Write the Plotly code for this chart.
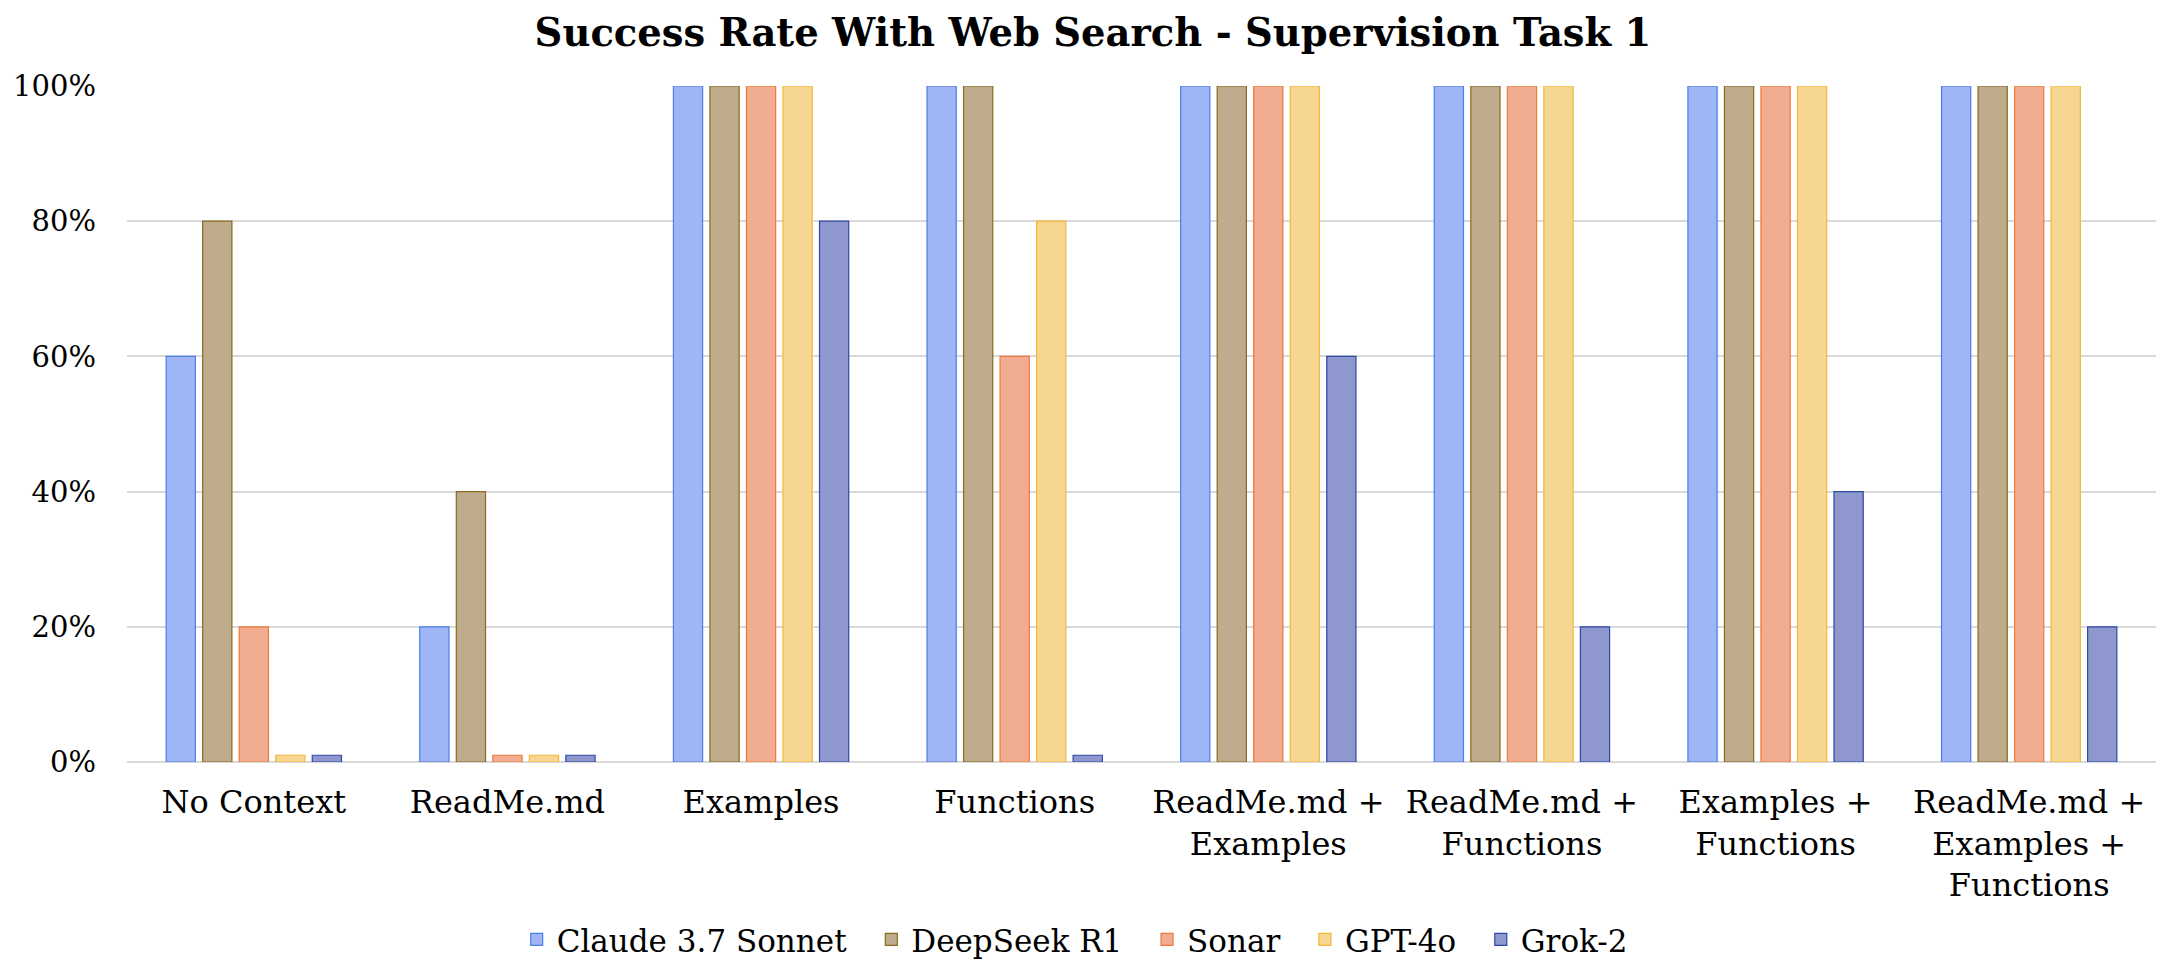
import plotly.graph_objects as go

# categories (x axis) and models (series)
categories = [
    "No Context",
    "ReadMe.md",
    "Examples",
    "Functions",
    "ReadMe.md +<br>Examples",
    "ReadMe.md +<br>Functions",
    "Examples +<br>Functions",
    "ReadMe.md +<br>Examples +<br>Functions",
]

claude = [60, 20, 100, 100, 100, 100, 100, 100]
deepseek = [80, 40, 100, 100, 100, 100, 100, 100]
sonar = [20, 1, 100, 60, 100, 100, 100, 100]
gpt4o = [1, 1, 100, 80, 100, 100, 100, 100]
grok2 = [1, 1, 80, 1, 60, 20, 40, 20]

y_ticks = [0, 20, 40, 60, 80, 100]

series = [
    ("Claude 3.7 Sonnet", claude, "#9fb5f5", "#4a7ee8"),
    ("DeepSeek R1", deepseek, "#bfac8c", "#8a6a1e"),
    ("Sonar", sonar, "#f2ac8f", "#ee7a3a"),
    ("GPT-4o", gpt4o, "#f7d692", "#f0b835"),
    ("Grok-2", grok2, "#8e98cf", "#2e47a5"),
]

font_family = "Georgia, 'DejaVu Serif', serif"

fig = go.Figure()
for name, vals, fill, edge in series:
    fig.add_trace(go.Bar(
        # a little trailing space widens the gap between legend entries
        name=name + "\u00a0\u00a0",
        x=categories,
        y=vals,
        marker=dict(color=fill, line=dict(color=edge, width=1.2)),
    ))

fig.update_layout(
    width=2170,
    height=972,
    barmode="group",
    bargap=0.28,
    bargroupgap=0.2,
    plot_bgcolor="white",
    paper_bgcolor="white",
    font=dict(family=font_family, size=31, color="black"),
    title=dict(
        text="<b>Success Rate With Web Search - Supervision Task 1</b>",
        x=0.5, xanchor="center", y=0.975, yanchor="middle",
        font=dict(family=font_family, size=38.5, color="black"),
    ),
    margin=dict(l=119, r=22, t=78, b=218),
    xaxis=dict(
        showgrid=False, showline=False, ticks="",
        tickfont=dict(size=32),
        ticklabelstandoff=18,
        automargin=False,
    ),
    yaxis=dict(
        range=[0, 100],
        tickvals=y_ticks,
        ticktext=[f"{v}%" for v in y_ticks],
        showgrid=True, gridcolor="#d9d9d9", gridwidth=1.5,
        zeroline=True, zerolinecolor="#d9d9d9", zerolinewidth=1.5,
        showline=False, ticks="",
        tickfont=dict(size=29),
        ticklabelstandoff=30,
        automargin=False,
    ),
    legend=dict(
        orientation="h",
        x=0.472, xanchor="center",
        y=-0.263, yanchor="middle",
        font=dict(size=31),
    ),
)

fig.write_html("out.html")
